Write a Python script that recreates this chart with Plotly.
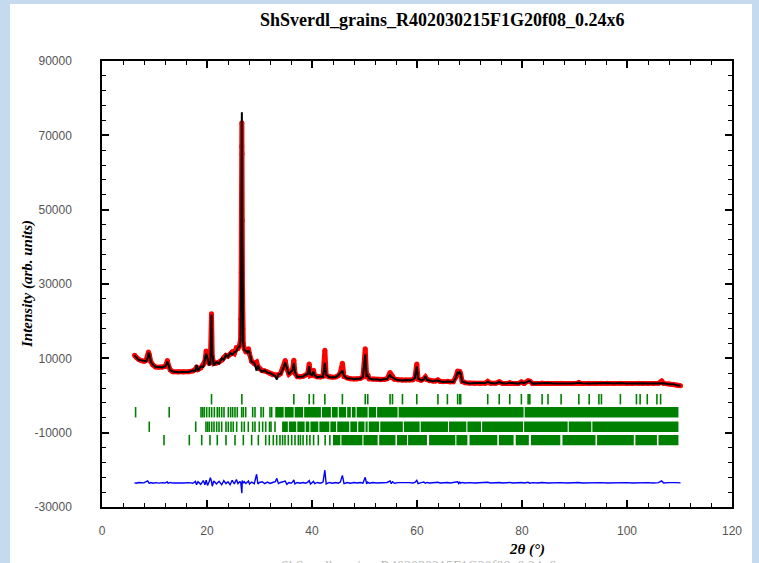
import plotly.graph_objects as go

# ---------------------------------------------------------------- data
# 2-theta positions (degrees) of the measured profile
two_theta = [
    6.2, 6.5, 7.0, 7.5, 8.0, 8.4, 8.7, 8.85, 9.0, 9.3, 9.7, 10.2, 10.8, 11.5,
    12.0, 12.3, 12.45, 12.6, 13.0, 13.5, 14.5, 15.5, 16.5, 17.3, 17.8, 18.0,
    18.3, 18.8, 19.3, 19.6, 19.85, 20.1, 20.4, 20.65, 20.86, 21.0, 21.3, 21.8,
    22.3, 22.8, 23.2, 23.6, 24.0, 24.4, 24.8, 25.2, 25.6, 25.9, 26.2, 26.4,
    26.46, 26.52, 26.57, 26.61, 26.64, 26.67, 26.71, 26.76, 26.82, 26.9, 27.1,
    27.4, 27.7, 27.9, 28.1, 28.5, 29.0, 29.45, 29.7, 30.0, 30.5, 31.0, 31.5,
    32.0, 32.5, 33.0, 33.3, 33.6, 34.0, 34.5, 34.9, 35.2, 35.6, 36.0, 36.3,
    36.54, 36.75, 37.2, 37.7, 38.3, 38.8, 39.2, 39.47, 39.7, 40.0, 40.29, 40.5,
    41.0, 41.6, 42.1, 42.45, 42.7, 43.3, 43.9, 44.5, 45.0, 45.4, 45.79, 46.1,
    46.7, 47.3, 48.0, 48.6, 49.2, 49.7, 50.14, 50.4, 50.62, 50.9, 51.6, 52.3,
    53.0, 53.7, 54.3, 54.87, 55.1, 55.33, 55.7, 56.4, 57.2, 57.9, 58.6, 59.2,
    59.6, 59.96, 60.2, 60.8, 61.3, 61.6, 61.9, 62.4, 63.0, 63.5, 63.99, 64.4,
    65.0, 65.79, 66.3, 66.9, 67.4, 67.74, 67.95, 68.14, 68.32, 68.6, 69.2,
    70.0, 71.0, 72.0, 73.0, 73.47, 74.0, 75.0, 75.66, 76.3, 77.0, 77.67, 78.3,
    79.3, 79.88, 80.4, 81.17, 81.49, 82.0, 83.0, 83.83, 84.95, 86.0, 87.45,
    88.5, 89.5, 90.83, 91.5, 92.8, 94.0, 95.13, 96.24, 97.5, 98.74, 100.0,
    101.0, 102.22, 103.0, 104.0, 105.0, 106.0, 106.6, 107.0, 108.0, 108.8,
    109.5, 110.2,
]

# observed intensity (arb. units)
y_obs = [
    10800, 10300, 9700, 9400, 9200, 9500, 10600, 11700, 11000, 9100, 8200,
    7700, 7600, 7600, 7800, 8600, 9400, 8300, 6900, 6400, 6300, 6300, 6400,
    6600, 7000, 7700, 7000, 7400, 8300, 9200, 12000, 9200, 8600, 9800, 22000,
    10500, 8600, 8700, 9000, 9500, 10200, 10800, 10600, 11000, 11700, 11300,
    12800, 12700, 13500, 15000, 20500, 33000, 52000, 67000, 73400, 65000,
    47000, 29000, 18000, 14000, 12600, 11800, 11800, 12600, 11200, 9200,
    8600, 9000, 7800, 7200, 6700, 6600, 6300, 5900, 5600, 5500, 5500, 5500,
    5900, 7500, 9400, 7200, 5800, 6300, 7000, 9500, 6000, 5100, 5000, 5200,
    5500, 6000, 8500, 5400, 5600, 6800, 5300, 5000, 5000, 5200, 12200, 5300,
    5000, 4900, 5000, 5300, 6200, 8700, 5100, 4700, 4500, 4450, 4450, 4600,
    5000, 12600, 5000, 5600, 4500, 4400, 4300, 4250, 4300, 4500, 6200, 4800,
    5200, 4400, 4200, 4150, 4150, 4150, 4250, 4800, 8500, 4400, 4100, 4500,
    5000, 4300, 4000, 3900, 3900, 4200, 3800, 3700, 3850, 3650, 3700, 5000,
    6600, 5600, 6500, 5800, 3800, 3450, 3300, 3300, 3300, 3300, 3800, 3280,
    3280, 3700, 3250, 3250, 3500, 3250, 3250, 3650, 3250, 3950, 3850, 3250,
    3250, 3350, 3300, 3250, 3300, 3250, 3250, 3550, 3250, 3300, 3250, 3300,
    3300, 3250, 3300, 3250, 3250, 3300, 3250, 3250, 3250, 3300, 3900, 3250,
    3100, 3000, 2800, 2600,
]

# observed minus calculated intensity
y_diff = [
    0, -100, 100, -50, 0, 300, 500, 200, -150, 100, -100, 50, -80, 60, -50,
    200, 250, -150, 100, -60, 50, -40, 60, -100, 400, -500, 300, -400, 600,
    -500, 700, -700, 300, 1400, 300, -900, 500, -300, 400, -500, 600, -200,
    300, -500, 700, -300, 900, -200, 300, 200, -300, -800, -1500, -2300,
    -2800, -1500, 600, 400, 200, -100, 300, -200, 200, 500, -300, 200, -200,
    2300, -300, 100, 300, -200, 200, -150, 100, 300, 1200, -200, 100, 300,
    500, -400, 100, -100, 200, 800, -300, 100, -100, 100, -100, 200, 600,
    -300, 100, 400, -200, 100, -100, 200, 3400, -300, 100, -100, 100, -100,
    200, 2000, -200, 100, -100, 100, -50, 100, -100, 1500, -300, 200, -100,
    100, -50, 50, -50, 100, 500, -200, 300, -100, 50, 100, -50, 50, -50, 100,
    700, -200, 50, 200, -100, 100, -50, 50, -50, 150, -50, 50, 100, -50, 50,
    200, 300, -200, 200, -100, 100, -50, 50, -50, 50, -50, 150, -50, 50, 100,
    -50, 50, 100, -50, 50, 100, -50, 150, -100, 50, -50, 80, -50, 50, 50,
    -50, 50, 100, -50, 50, -50, 50, -50, 50, -50, 50, -50, 50, -50, 50, -50,
    50, 500, -50, 50, -50, 50, 0,
]

# Bragg reflection positions, one list per phase row
# (single reflections plus stretches where reflections merge into a band)
phase1_peaks = [
    20.86, 26.64, 36.54, 39.47, 40.29, 42.45, 45.79, 50.14, 50.62, 54.87,
    55.33, 57.23, 59.96, 63.99, 65.79, 67.74, 68.14, 68.32, 73.47, 75.66,
    77.67, 79.88, 81.17, 81.49, 83.83, 84.95, 87.45, 90.83, 92.80, 94.65,
    95.13, 98.74, 101.8, 102.5, 103.86, 105.7, 106.4,
]
phase2_peaks = [
    6.4, 12.8, 18.86, 19.18, 19.49, 19.94, 20.44, 20.89, 21.4, 21.96, 22.34,
    22.8, 23.24, 24.06, 24.5, 24.89, 25.33, 25.77, 26.6, 26.92, 27.37, 28.7,
    29.14, 30.29, 30.73, 32.0, 32.32,
]
phase2_bands = [
    (33.0, 34.6), (34.8, 36.5), (36.7, 38.3), (38.5, 41.7), (41.9, 43.6),
    (43.8, 44.9), (45.1, 46.5), (46.7, 47.4), (47.6, 48.3), (48.5, 50.6),
    (50.8, 52.2), (52.4, 56.3), (56.5, 80.3), (80.5, 109.8),
]
phase3_peaks = [
    9.0, 17.85, 19.8, 20.13, 20.44, 20.9, 21.33, 21.84, 22.29, 22.8, 23.62,
    24.06, 24.57, 25.0, 25.65, 26.6, 27.1, 27.87, 28.7, 29.14, 29.96, 30.6,
    31.18, 31.9, 32.19, 32.95,
]
phase3_bands = [
    (34.3, 35.4), (35.6, 37.0), (37.2, 38.6), (38.8, 39.5), (39.7, 41.2),
    (41.4, 43.3), (43.5, 44.6), (44.8, 47.1), (47.3, 48.6), (48.8, 50.0),
    (50.2, 50.6), (50.8, 52.8), (53.0, 57.3), (57.5, 60.5), (60.7, 65.9),
    (66.1, 69.4), (69.6, 72.2), (72.4, 80.2), (80.4, 88.7), (88.9, 93.2),
    (93.4, 109.8),
]
phase4_peaks = [
    11.81, 16.63, 18.99, 20.57, 21.96, 23.62, 25.33, 26.92, 28.5, 29.78,
    31.18, 31.87, 32.63, 33.27, 33.9, 34.4, 34.86, 35.49, 36.13, 36.76, 37.4,
    37.8, 38.3, 39.0, 39.6, 40.3, 41.2, 42.5, 43.4,
]
phase4_bands = [
    (44.0, 45.4), (45.6, 49.6), (49.8, 52.5), (52.8, 55.9), (56.2, 58.1),
    (58.3, 61.9), (62.3, 67.3), (67.5, 69.6), (70.0, 75.3), (75.6, 78.4),
    (78.8, 81.3), (81.7, 87.3), (87.7, 94.0), (94.3, 101.3), (101.6, 105.7),
    (106.0, 109.8),
]

# axis ticks
x_tick_vals = [0, 20, 40, 60, 80, 100, 120]
y_tick_vals = [-30000, -10000, 10000, 30000, 50000, 70000, 90000]
y_tick_text = ["-30000", "-10000", "10000", "30000", "50000", "70000", "90000"]

# ---------------------------------------------------------------- layout constants
DIFF_OFFSET = -23500
ROW_CENTERS = [-1000, -4500, -8400, -12000]
ROW_HALF = 1400
GREEN = "#008000"

y_calc = [o - d for o, d in zip(y_obs, y_diff)]
y_diff_plot = [d + DIFF_OFFSET for d in y_diff]


def tick_segments(positions, yc):
    xs, ys = [], []
    for p in positions:
        xs += [p, p, None]
        ys += [yc - ROW_HALF, yc + ROW_HALF, None]
    return xs, ys


def band_polys(bands, yc):
    xs, ys = [], []
    for a, b in bands:
        xs += [a, b, b, a, a, None]
        ys += [yc - ROW_HALF, yc - ROW_HALF, yc + ROW_HALF, yc + ROW_HALF,
               yc - ROW_HALF, None]
    return xs, ys


fig = go.Figure()

# observed profile (red points)
fig.add_trace(go.Scatter(
    x=two_theta, y=y_obs, mode="lines+markers",
    line=dict(color="#ff0000", width=5),
    marker=dict(color="#ff0000", size=5),
    hoverinfo="skip",
))
# calculated profile
fig.add_trace(go.Scatter(
    x=two_theta, y=y_calc, mode="lines",
    line=dict(color="#000000", width=2),
))
# difference curve
fig.add_trace(go.Scatter(
    x=two_theta, y=y_diff_plot, mode="lines",
    line=dict(color="#0000ff", width=1.4),
))

# Bragg position rows
peak_rows = [phase1_peaks, phase2_peaks, phase3_peaks, phase4_peaks]
band_rows = [[], phase2_bands, phase3_bands, phase4_bands]
for peaks, bands, yc in zip(peak_rows, band_rows, ROW_CENTERS):
    xs, ys = tick_segments(peaks, yc)
    fig.add_trace(go.Scatter(x=xs, y=ys, mode="lines",
                             line=dict(color=GREEN, width=1.6)))
    if bands:
        bx, by = band_polys(bands, yc)
        fig.add_trace(go.Scatter(x=bx, y=by, mode="lines", fill="toself",
                                 fillcolor=GREEN, line=dict(width=0),
                                 hoverinfo="skip"))

axis_common = dict(
    showline=True, linecolor="black", linewidth=1.5, mirror="ticks",
    ticks="inside", ticklen=7, tickwidth=1.5, tickcolor="black",
    showgrid=False, zeroline=False,
    tickfont=dict(family="Liberation Sans, Arial, sans-serif", size=12,
                  color="#555555"),
)

fig.update_xaxes(
    range=[0, 120], tickvals=x_tick_vals, ticklabelstandoff=12,
    minor=dict(dtick=4, tick0=0, ticks="inside", ticklen=4, tickwidth=1,
               tickcolor="black"),
    **axis_common,
)
fig.update_yaxes(
    range=[-30000, 90000], tickvals=y_tick_vals, ticktext=y_tick_text,
    ticklabelstandoff=26,
    minor=dict(dtick=4000, tick0=-30000, ticks="inside", ticklen=4,
               tickwidth=1, tickcolor="black"),
    **axis_common,
)

PLOT_L, PLOT_R, PLOT_T, PLOT_B = 102, 732, 61, 507
W, H = 759, 563


def px_x(px):
    return (px - PLOT_L) / (PLOT_R - PLOT_L)


def px_y(py):
    return (PLOT_B - py) / (PLOT_B - PLOT_T)


fig.update_layout(
    width=W, height=H,
    margin=dict(l=PLOT_L, r=W - PLOT_R, t=PLOT_T, b=H - PLOT_B),
    paper_bgcolor="#c6daef", plot_bgcolor="white",
    showlegend=False,
    shapes=[dict(type="rect", xref="paper", yref="paper", layer="below",
                 x0=px_x(10), x1=px_x(752), y0=px_y(575), y1=px_y(4),
                 fillcolor="white", line=dict(width=0))],
    annotations=[
        dict(text="<b>ShSverdl_grains_R402030215F1G20f08_0.24x6</b>",
             xref="paper", yref="paper", x=px_x(442), y=px_y(20),
             xanchor="center", yanchor="middle", showarrow=False,
             font=dict(family="Liberation Serif, Times New Roman, serif",
                       size=18, color="black")),
        dict(text="<b><i>Intensity (arb. units)</i></b>",
             xref="paper", yref="paper", x=px_x(27), y=px_y(284),
             xanchor="center", yanchor="middle", textangle=-90,
             showarrow=False,
             font=dict(family="Liberation Serif, Times New Roman, serif",
                       size=15, color="black")),
        dict(text="<b><i>2θ (°)</i></b>",
             xref="paper", yref="paper", x=px_x(527), y=px_y(549),
             xanchor="center", yanchor="middle", showarrow=False,
             font=dict(family="Liberation Serif, Times New Roman, serif",
                       size=15, color="black")),
        dict(text="ShSverdl_grains_R402030215F1G20f08_0.24x6",
             xref="paper", yref="paper", x=px_x(418), y=px_y(557),
             xanchor="center", yanchor="top", showarrow=False,
             font=dict(family="Liberation Serif, Times New Roman, serif",
                       size=14, color="#bbbbbb")),
    ],
)

fig.write_html("out.html")
